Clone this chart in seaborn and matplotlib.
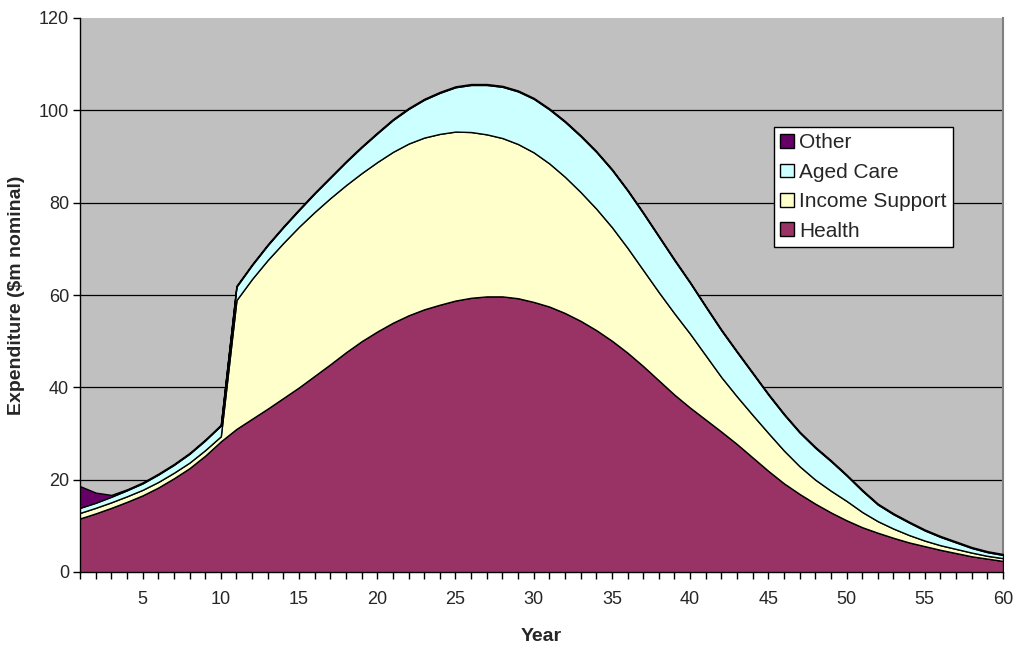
import matplotlib
matplotlib.use("Agg")
import matplotlib.pyplot as plt
import seaborn as sns

# Data ($m nominal per year)
years = list(range(1, 61))

health = [11.6, 12.7, 13.9, 15.2, 16.6, 18.3, 20.3, 22.5, 25.2, 28.3,
          31.0, 33.2, 35.4, 37.7, 40.0, 42.5, 45.0, 47.6, 50.0, 52.1,
          54.0, 55.6, 56.9, 57.9, 58.8, 59.4, 59.7, 59.7, 59.3, 58.5,
          57.5, 56.1, 54.4, 52.4, 50.1, 47.5, 44.6, 41.5, 38.4, 35.6,
          33.0, 30.4, 27.7, 24.8, 21.9, 19.2, 16.9, 14.8, 12.9, 11.2,
          9.7, 8.5, 7.4, 6.4, 5.6, 4.8, 4.1, 3.4, 2.9, 2.4]

income_support = [1.2, 1.2, 1.2, 1.2, 1.2, 1.2, 1.2, 1.2, 1.2, 1.1,
                  27.9, 30.3, 32.2, 33.6, 34.8, 35.5, 36.0, 36.2, 36.4, 36.7,
                  37.0, 37.2, 37.2, 37.0, 36.6, 35.9, 35.1, 34.3, 33.4, 32.4,
                  31.0, 29.5, 27.9, 26.3, 24.6, 22.7, 20.8, 19.1, 17.6, 16.0,
                  13.9, 11.8, 10.3, 9.2, 8.2, 7.1, 6.0, 5.2, 4.7, 4.2,
                  3.3, 2.5, 2.0, 1.6, 1.2, 1.0, 0.9, 0.8, 0.6, 0.6]

aged_care = [1.1, 1.1, 1.2, 1.3, 1.4, 1.6, 1.7, 1.9, 2.1, 2.3,
             2.9, 3.0, 3.2, 3.4, 3.6, 4.0, 4.4, 5.0, 5.6, 6.2,
             6.9, 7.5, 8.2, 8.9, 9.6, 10.2, 10.7, 11.1, 11.4, 11.6,
             11.7, 11.9, 12.1, 12.3, 12.4, 12.4, 12.3, 12.0, 11.5, 11.0,
             10.5, 10.1, 9.6, 9.0, 8.3, 7.8, 7.3, 6.9, 6.4, 5.5,
             4.6, 3.6, 3.1, 2.7, 2.2, 1.8, 1.4, 1.0, 0.8, 0.7]

other = [4.7, 2.2, 0.4, 0.2, 0.2, 0.2, 0.2, 0.2, 0.2, 0.2,
         0.2, 0.2, 0.2, 0.2, 0.2, 0.2, 0.2, 0.2, 0.2, 0.2,
         0.2, 0.2, 0.2, 0.2, 0.2, 0.2, 0.2, 0.2, 0.2, 0.2,
         0.2, 0.2, 0.2, 0.2, 0.2, 0.2, 0.2, 0.2, 0.2, 0.2,
         0.2, 0.2, 0.2, 0.2, 0.2, 0.2, 0.2, 0.2, 0.2, 0.2,
         0.2, 0.2, 0.2, 0.2, 0.2, 0.2, 0.2, 0.2, 0.2, 0.2]

series_names = ["Health", "Income Support", "Aged Care", "Other"]
series_colors = ["#993366", "#FFFFCC", "#CCFFFF", "#660066"]
x_tick_labels = [str(y) if y % 5 == 0 else "" for y in years]
y_ticks = [0, 20, 40, 60, 80, 100, 120]

# Style
sns.set_style("white")
plt.rcParams["font.family"] = ["Liberation Sans", "DejaVu Sans"]

fig = plt.figure(figsize=(10.2, 6.46), dpi=100)
ax = fig.add_axes([80 / 1020, 1 - 572 / 646, 923 / 1020, 554 / 646])
ax.set_facecolor("#C0C0C0")

# Stacked areas
polys = ax.stackplot(years, health, income_support, aged_care, other,
                     colors=series_colors, labels=series_names,
                     edgecolor="black", linewidth=1.0, zorder=3)

# Gridlines behind the areas
for yv in y_ticks[1:-1]:
    ax.axhline(yv, color="black", linewidth=0.9, zorder=1)

ax.set_xlim(1, 60)
ax.set_ylim(0, 120)
ax.set_xticks(years)
ax.set_xticklabels(x_tick_labels, fontsize=13)
ax.set_yticks(y_ticks)
ax.set_yticklabels([str(v) for v in y_ticks], fontsize=13)
ax.tick_params(axis="both", direction="out", length=5, width=1, color="black",
               bottom=True, left=True, pad=3)
ax.tick_params(axis="x", pad=9)

for side in ["left", "bottom"]:
    ax.spines[side].set_color("black")
    ax.spines[side].set_linewidth(1)
ax.spines["top"].set_visible(False)
ax.spines["right"].set_color("#808080")
ax.spines["right"].set_linewidth(1.5)

ax.set_xlabel("Year", fontsize=14, fontweight="bold", labelpad=14)
ax.set_ylabel("Expenditure ($m nominal)", fontsize=14, fontweight="bold", labelpad=10)

# Legend in reverse stack order
handles, labels = ax.get_legend_handles_labels()
leg = ax.legend(handles[::-1], labels[::-1], loc="upper left",
                bbox_to_anchor=(0.752, 0.803), fontsize=15, frameon=True,
                fancybox=False, framealpha=1, edgecolor="black",
                handlelength=0.65, handleheight=0.65, handletextpad=0.25,
                labelspacing=0.5, borderpad=0.3, borderaxespad=0)
leg.get_frame().set_linewidth(1)

fig.savefig("out.png", dpi=100)
